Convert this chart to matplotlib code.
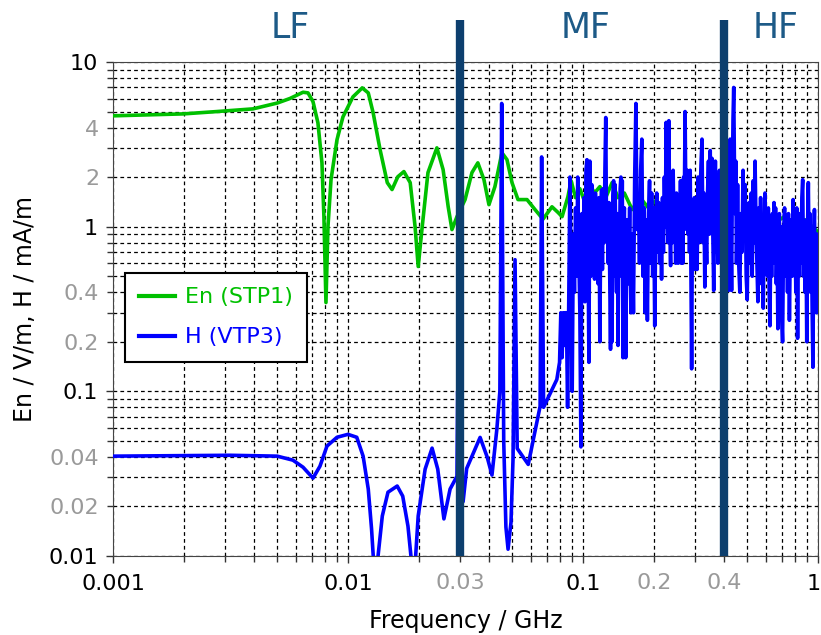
import numpy as np
import matplotlib.pyplot as plt
from matplotlib.transforms import ScaledTranslation

# En (STP1), V/m
en_freq = [0.001, 0.002, 0.00277, 0.00394, 0.005, 0.00566, 0.00644, 0.00676, 0.0071, 0.00745,
           0.00775, 0.0079, 0.00806, 0.00822, 0.00847, 0.00898, 0.00952, 0.0105, 0.0115, 0.0122,
           0.0128, 0.0137, 0.0147, 0.0154, 0.0163, 0.0173, 0.0184, 0.0193, 0.0199, 0.0207,
           0.0219, 0.0239, 0.0254, 0.0267, 0.0277, 0.0291, 0.0315, 0.0337, 0.0357, 0.0379,
           0.0398, 0.0422, 0.0452, 0.0475, 0.0499, 0.0529, 0.0578, 0.0625, 0.0676, 0.0738,
           0.0783, 0.0815, 0.0863, 0.089, 0.093, 0.097, 0.102, 0.107, 0.112, 0.118,
           0.125, 0.133, 0.141, 0.150, 0.162, 0.175, 0.19, 0.205, 0.224, 0.242,
           0.262, 0.282, 0.30, 0.324, 0.355, 0.383, 0.42, 0.466, 0.514, 0.567,
           0.60, 0.65, 0.72, 0.79, 0.88, 1.0]
en_val = [4.71, 4.84, 5.0, 5.19, 5.63, 6.0, 6.55, 6.49, 5.74, 4.27,
          2.44, 1.15, 0.346, 1.0, 1.93, 3.37, 4.64, 6.14, 6.96, 6.49,
          4.91, 2.93, 1.85, 1.68, 2.01, 2.16, 1.85, 1.0, 0.573, 1.0,
          2.13, 3.01, 2.22, 1.32, 0.96, 1.15, 1.46, 2.13, 2.44, 1.93,
          1.36, 1.75, 2.81, 2.55, 1.85, 1.46, 1.46, 1.27, 1.11, 1.32,
          1.22, 1.15, 1.52, 1.9, 1.5, 1.7, 1.4, 1.8, 1.6, 1.75,
          1.5, 1.85, 1.5, 1.6, 1.27, 1.5, 1.3, 1.45, 1.2, 1.35,
          1.1, 1.05, 1.4, 1.2, 1.45, 1.2, 1.35, 1.15, 1.3, 1.1,
          1.1, 1.05, 1.15, 1.0, 1.1, 0.93]

# H (VTP3), mA/m - below 0.09 GHz
h_freq_low = [0.001, 0.00315, 0.005, 0.00583, 0.00644, 0.0071, 0.0076, 0.00814, 0.00898, 0.01,
              0.0109, 0.0116, 0.0122, 0.0126, 0.0129, 0.0133, 0.0140, 0.0148, 0.0162, 0.0171,
              0.0180, 0.0187, 0.0193, 0.0199, 0.0213, 0.0228, 0.0241, 0.0256, 0.0272, 0.0291,
              0.0293, 0.0296, 0.0309, 0.032, 0.0365, 0.0391, 0.041, 0.043, 0.0443, 0.0451,
              0.046, 0.047, 0.048, 0.0494, 0.0504, 0.0514, 0.0525, 0.0585, 0.0657, 0.0667,
              0.068, 0.0774, 0.0795, 0.0805, 0.0815, 0.0825, 0.0835, 0.084]
h_val_low = [0.0404, 0.0409, 0.0404, 0.0382, 0.0346, 0.0297, 0.0351, 0.0465, 0.0526, 0.0548,
             0.0526, 0.0404, 0.0255, 0.0146, 0.0085, 0.0088, 0.0175, 0.0244, 0.0266, 0.0231,
             0.0152, 0.0088, 0.0088, 0.0175, 0.0337, 0.0452, 0.0337, 0.0168, 0.0255, 0.0305,
             0.1, 0.05, 0.0214, 0.034, 0.0525, 0.040, 0.031, 0.0587, 0.1, 5.6,
             0.05, 0.015, 0.011, 0.016, 0.039, 0.63, 0.045, 0.036, 0.081, 2.65,
             0.08, 0.118, 0.15, 0.3, 0.16, 0.3, 0.19, 0.3]

# H (VTP3), mA/m - noisy part 0.085 .. 1 GHz
h_freq_high = [
    0.085, 0.086, 0.087, 0.088, 0.089, 0.090, 0.091, 0.092, 0.093, 0.094,
    0.095, 0.096, 0.097, 0.098, 0.099, 0.100,
    0.101, 0.102, 0.103, 0.104, 0.105, 0.106, 0.107, 0.108, 0.109, 0.110,
    0.111, 0.112, 0.113, 0.114, 0.115, 0.116, 0.117, 0.118, 0.119, 0.120,
    0.121, 0.122, 0.123, 0.124, 0.125, 0.126, 0.127, 0.128, 0.129, 0.130,
    0.131, 0.132, 0.133, 0.134, 0.135, 0.136, 0.137, 0.138, 0.139, 0.140,
    0.141, 0.142, 0.143, 0.144, 0.145, 0.146, 0.147, 0.148, 0.149, 0.150,
    0.152, 0.154, 0.156, 0.158, 0.160, 0.162, 0.164, 0.166, 0.168, 0.170,
    0.172, 0.174, 0.176, 0.178, 0.180, 0.182, 0.184, 0.186, 0.188, 0.190,
    0.192, 0.194, 0.196, 0.198, 0.200, 0.202, 0.204, 0.206, 0.208, 0.210,
    0.212, 0.214, 0.216, 0.218, 0.220, 0.222, 0.224, 0.226, 0.228, 0.230,
    0.232, 0.234, 0.236, 0.238, 0.240, 0.242, 0.244, 0.246, 0.248, 0.250,
    0.252, 0.254, 0.256, 0.258, 0.260, 0.262, 0.264, 0.266, 0.268, 0.270,
    0.272, 0.274, 0.276, 0.278, 0.280, 0.282, 0.284, 0.286, 0.288, 0.290,
    0.292, 0.294, 0.296, 0.298, 0.300,
    0.303, 0.306, 0.309, 0.312, 0.315, 0.318, 0.321, 0.324, 0.327, 0.330,
    0.333, 0.336, 0.339, 0.342, 0.345, 0.348, 0.351, 0.354, 0.357, 0.360,
    0.363, 0.366, 0.369, 0.372, 0.375, 0.378, 0.381, 0.384, 0.387, 0.390,
    0.393, 0.396, 0.399, 0.402, 0.405, 0.408, 0.411, 0.414, 0.417, 0.420,
    0.423, 0.426, 0.429, 0.432, 0.435, 0.438, 0.441, 0.444, 0.447, 0.450,
    0.455, 0.460, 0.465, 0.470, 0.475, 0.480, 0.485, 0.490, 0.495, 0.500,
    0.505, 0.510, 0.515, 0.520, 0.525, 0.530, 0.535, 0.540, 0.545, 0.550,
    0.555, 0.560, 0.565, 0.570, 0.575, 0.580, 0.585, 0.590, 0.595, 0.600,
    0.605, 0.610, 0.615, 0.620, 0.625, 0.630, 0.635, 0.640, 0.645, 0.650,
    0.655, 0.660, 0.665, 0.670, 0.675, 0.680, 0.685, 0.690, 0.695, 0.700,
    0.707, 0.714, 0.721, 0.728, 0.735, 0.742, 0.749, 0.756, 0.763, 0.770,
    0.777, 0.784, 0.791, 0.798, 0.805, 0.812, 0.819, 0.826, 0.833, 0.840,
    0.847, 0.854, 0.861, 0.868, 0.875, 0.882, 0.889, 0.896, 0.903, 0.910,
    0.917, 0.924, 0.931, 0.938, 0.945, 0.952, 0.959, 0.966, 0.973, 0.980,
    0.987, 0.994, 1.0]
h_val_high = [
    0.30, 0.08, 0.35, 2.0, 0.6, 0.10, 0.9, 0.4, 1.3, 0.5,
    2.0, 0.7, 0.3, 0.046, 1.2, 0.6,
    1.5, 0.35, 2.2, 2.55, 0.9, 0.15, 2.5, 0.5, 1.8, 0.6,
    1.2, 0.48, 1.6, 0.7, 1.3, 0.45, 1.5, 0.2, 1.0, 1.67,
    0.55, 1.7, 0.8, 2.2, 4.6, 0.9, 1.3, 0.6, 1.4, 0.5,
    0.18, 1.1, 0.2, 1.5, 1.9, 0.5, 1.8, 0.7, 0.4, 1.2,
    0.19, 1.0, 0.6, 1.7, 2.0, 0.5, 1.9, 0.16, 0.8, 1.3,
    0.16, 1.1, 0.45, 1.3, 0.3, 0.9, 0.3, 2.0, 5.6, 0.96,
    1.5, 0.6, 2.2, 3.4, 0.5, 1.3, 0.3, 1.1, 0.27, 1.2,
    1.9, 0.6, 1.6, 0.5, 1.3, 0.25, 1.0, 1.6, 0.7, 1.4,
    0.6, 1.3, 0.48, 1.5, 0.7, 2.0, 1.0, 4.3, 1.2, 0.8,
    4.4, 1.0, 0.58, 1.8, 0.8, 2.2, 0.9, 1.4, 0.6, 1.6,
    0.8, 0.6, 1.5, 0.7, 1.9, 0.6, 1.2, 0.6, 2.0, 1.4,
    5.0, 1.5, 0.96, 2.2, 0.9, 1.8, 0.7, 2.2, 0.5, 0.137,
    0.9, 1.2, 0.7, 1.5, 0.55,
    1.2, 0.55, 2.0, 0.8, 1.5, 2.4, 3.4, 0.8, 1.6, 0.43,
    1.0, 0.6, 1.6, 2.5, 0.9, 2.9, 1.2, 2.6, 0.9, 0.41,
    1.2, 2.5, 0.7, 1.8, 0.6, 1.4, 2.2, 0.8, 1.5, 0.5,
    1.8, 0.7, 2.6, 1.0, 3.4, 1.2, 0.8, 2.0, 0.41, 1.4,
    3.4, 1.0, 0.41, 1.8, 4.5, 7.0, 2.5, 1.2, 2.5, 0.6,
    1.8, 0.6, 0.4, 1.2, 0.7, 2.2, 1.0, 1.8, 0.5, 0.36,
    1.2, 1.4, 0.6, 1.6, 0.5, 1.9, 0.8, 2.5, 1.0, 0.6,
    0.35, 1.3, 0.6, 1.5, 0.45, 1.1, 0.32, 0.9, 1.6, 0.6,
    1.1, 0.5, 1.3, 0.4, 0.25, 1.0, 0.5, 1.2, 0.6, 1.4,
    0.7, 1.3, 0.45, 0.9, 0.24, 0.8, 1.2, 0.5, 1.0, 0.3,
    0.2, 0.9, 1.3, 0.5, 1.1, 0.4, 1.2, 0.27, 0.8, 1.1,
    0.5, 1.46, 0.6, 1.2, 0.4, 1.3, 0.21, 0.9, 0.5, 1.2,
    0.6, 1.5, 1.93, 0.5, 1.1, 0.4, 1.0, 0.2, 1.0, 1.85,
    0.6, 1.2, 0.4, 0.9, 0.3, 0.14, 0.8, 1.27, 0.5, 0.9,
    0.3, 0.9, 0.75]

band_edges = [0.03, 0.4]
band_names = ['LF', 'MF', 'HF']
band_pos = [0.00566, 0.103, 0.663]

y_major = [0.01, 0.1, 1, 10]
y_minor_labels = {0.02: '0.02', 0.04: '0.04', 0.2: '0.2', 0.4: '0.4', 2: '2', 4: '4'}
x_major = [0.001, 0.01, 0.1, 1]
x_minor_labels = {0.03: '0.03', 0.2: '0.2', 0.4: '0.4'}

h_freq = h_freq_low + h_freq_high
h_val = h_val_low + h_val_high

plt.rcParams['font.family'] = 'DejaVu Sans'
fig = plt.figure(figsize=(8.21, 6.35), dpi=100)
ax = fig.add_axes([0.1376, 0.1244, 0.8587, 0.778])

ax.plot(en_freq, en_val, color='#00c000', lw=2.6, label='En (STP1)', zorder=3)
ax.plot(h_freq, h_val, color='#0000ff', lw=2.6, label='H (VTP3)', zorder=4)

ax.set_xscale('log')
ax.set_yscale('log')
ax.set_xlim(0.001, 1)
ax.set_ylim(0.01, 10)

ax.set_xticks(x_major)
ax.set_xticklabels(['0.001', '0.01', '0.1', '1'])
ax.set_yticks(y_major)
ax.set_yticklabels(['0.01', '0.1', '1', '10'])

xm = [m * d for d in [0.001, 0.01, 0.1] for m in range(2, 10)]
ym = [m * d for d in [0.01, 0.1, 1] for m in range(2, 10)]
ax.set_xticks(xm, minor=True)
ax.set_xticklabels([x_minor_labels.get(round(v, 6), '') for v in xm], minor=True)
ax.set_yticks(ym, minor=True)
ax.set_yticklabels([y_minor_labels.get(round(v, 6), '') for v in ym], minor=True)

ax.tick_params(which='both', direction='out', labelsize=16, width=1, color='#333333')
ax.tick_params(which='major', length=5, pad=6)
ax.tick_params(which='minor', length=4, pad=6, labelcolor='#9a9a9a')
ax.tick_params(axis='x', which='both', pad=8)

# nudge the last x label so it stays inside the picture
last = ax.get_xticklabels()[-1]
last.set_transform(last.get_transform() + ScaledTranslation(-3 / 72, 0, fig.dpi_scale_trans))

ax.grid(True, which='both', color='black', lw=0.9, linestyle=(0, (3, 2.5)))
for s in ax.spines.values():
    s.set_color('#444444')

ax.set_xlabel('Frequency / GHz', fontsize=17, labelpad=11)
ax.set_ylabel('En / V/m, H / mA/m', fontsize=17, labelpad=8)

# band separators
for b in band_edges:
    ax.plot([b, b], [0.01, 18], color='#0d3f6e', lw=6, clip_on=False, zorder=6,
            solid_capstyle='butt')
for name, p in zip(band_names, band_pos):
    ax.text(p, 16.0, name, color='#1d5a87', fontsize=25, ha='center', va='center',
            clip_on=False)

leg = ax.legend(loc='upper left', bbox_to_anchor=(0.017, 0.573), borderaxespad=0,
                fontsize=16, fancybox=False, framealpha=1, edgecolor='black',
                handlelength=1.6, labelspacing=0.9, borderpad=0.65, handletextpad=0.45)
leg.get_frame().set_linewidth(1.5)
for t, c in zip(leg.get_texts(), ['#00c000', '#0000ff']):
    t.set_color(c)
for l in leg.get_lines():
    l.set_linewidth(3)
leg.set_zorder(10)

fig.savefig('out.png', dpi=100)
